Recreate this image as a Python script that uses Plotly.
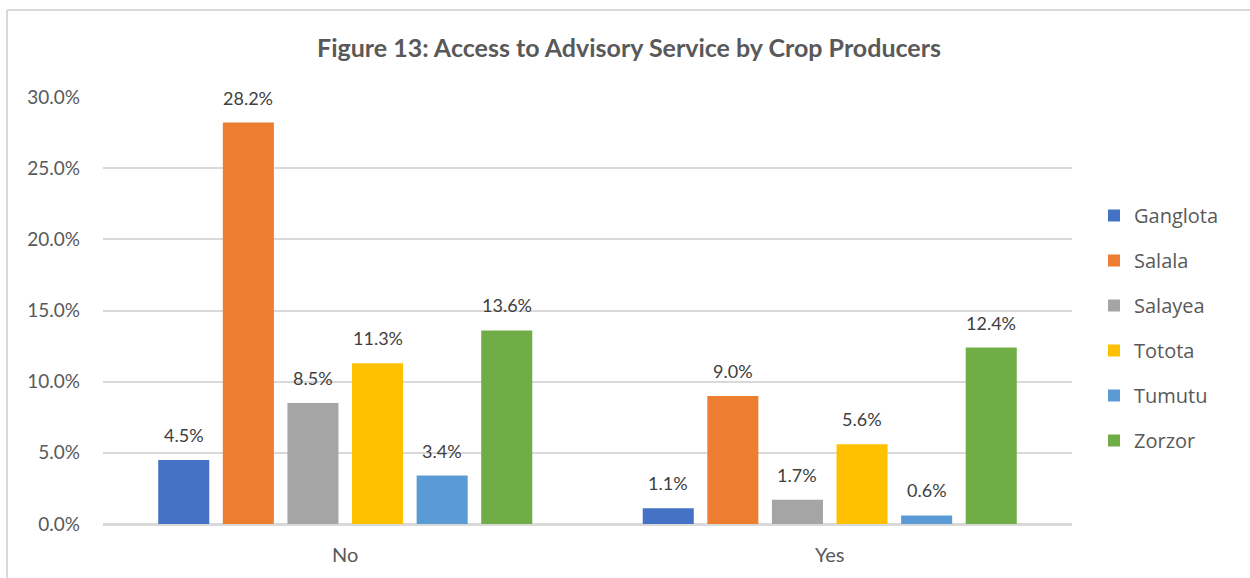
import plotly.graph_objects as go

# Share of crop producers by advisory-service access, per district
categories = ["No", "Yes"]
series_names = ["Ganglota", "Salala", "Salayea", "Totota", "Tumutu", "Zorzor"]
ganglota = [4.5, 1.1]
salala = [28.2, 9.0]
salayea = [8.5, 1.7]
totota = [11.3, 5.6]
tumutu = [3.4, 0.6]
zorzor = [13.6, 12.4]
y_ticks = [0, 5, 10, 15, 20, 25, 30]
y_tick_labels = ["0.0%", "5.0%", "10.0%", "15.0%", "20.0%", "25.0%", "30.0%"]

series_values = [ganglota, salala, salayea, totota, tumutu, zorzor]
colors = ["#4472C4", "#ED7D31", "#A5A5A5", "#FFC000", "#5B9BD5", "#70AD47"]

FONT = "Lato"
TEXT_COLOR = "#595959"
BARGAP = 0.2
N = len(series_names)

fig = go.Figure()
for name, vals, col in zip(series_names, series_values, colors):
    fig.add_trace(go.Bar(
        name=name,
        x=categories,
        y=vals,
        marker=dict(color=col, line=dict(width=0)),
        legendgroup=name,
    ))

# value labels above each bar, placed at the bar's slot within its group
slot = (1 - BARGAP) / N
for i, vals in enumerate(series_values):
    for j, v in enumerate(vals):
        fig.add_annotation(
            x=j + (i - (N - 1) / 2) * slot, y=v, xref="x", yref="y",
            text=f"{v:.1f}%", showarrow=False,
            xanchor="center", yanchor="bottom", yshift=12,
            font=dict(family=FONT, size=18, color="#404040"),
        )

W, H = 1250, 578
L, R, T, B = 103, 178, 97, 54
pw, ph = W - L - R, H - T - B

# light frame around the chart (top and left edges visible)
fx = (7 - L) / pw
fy = 1 + (T - 10) / ph
fig.add_shape(type="line", xref="paper", yref="paper", x0=fx, x1=(W - L) / pw + 0.01,
              y0=fy, y1=fy, line=dict(color="#d9d9d9", width=2))
fig.add_shape(type="line", xref="paper", yref="paper", x0=fx, x1=fx,
              y0=fy, y1=-B / ph - 0.01, line=dict(color="#d9d9d9", width=2))

fig.update_layout(
    width=W, height=H,
    margin=dict(l=L, r=R, t=T, b=B, pad=0),
    paper_bgcolor="white", plot_bgcolor="white",
    barmode="group", bargap=BARGAP, bargroupgap=0.21,
    title=dict(text="<b>Figure 13: Access to Advisory Service by Crop Producers</b>",
               x=629 / W, xanchor="center",
               y=1 - 48 / H, yanchor="middle",
               font=dict(family=FONT, size=25, color=TEXT_COLOR)),
    font=dict(family=FONT, color=TEXT_COLOR),
    xaxis=dict(showgrid=False, showline=True, linecolor="#d9d9d9", linewidth=2,
               ticks="", tickfont=dict(family=FONT, size=20, color=TEXT_COLOR),
               ticklabelstandoff=12),
    yaxis=dict(range=[0, 30], tickvals=y_ticks, ticktext=y_tick_labels,
               showgrid=True, gridcolor="#d9d9d9", gridwidth=2,
               zeroline=True, zerolinecolor="#d9d9d9", zerolinewidth=2,
               showline=False, ticks="",
               tickfont=dict(family=FONT, size=19, color=TEXT_COLOR),
               ticklabelstandoff=22),
    legend=dict(x=(1094 - L) / pw, xanchor="left", y=(524 - 196) / ph, yanchor="top",
                font=dict(family="Open Sans", size=20, color=TEXT_COLOR),
                tracegroupgap=16, itemwidth=30, bgcolor="rgba(0,0,0,0)"),
    showlegend=True,
)

fig.write_html("out.html")
